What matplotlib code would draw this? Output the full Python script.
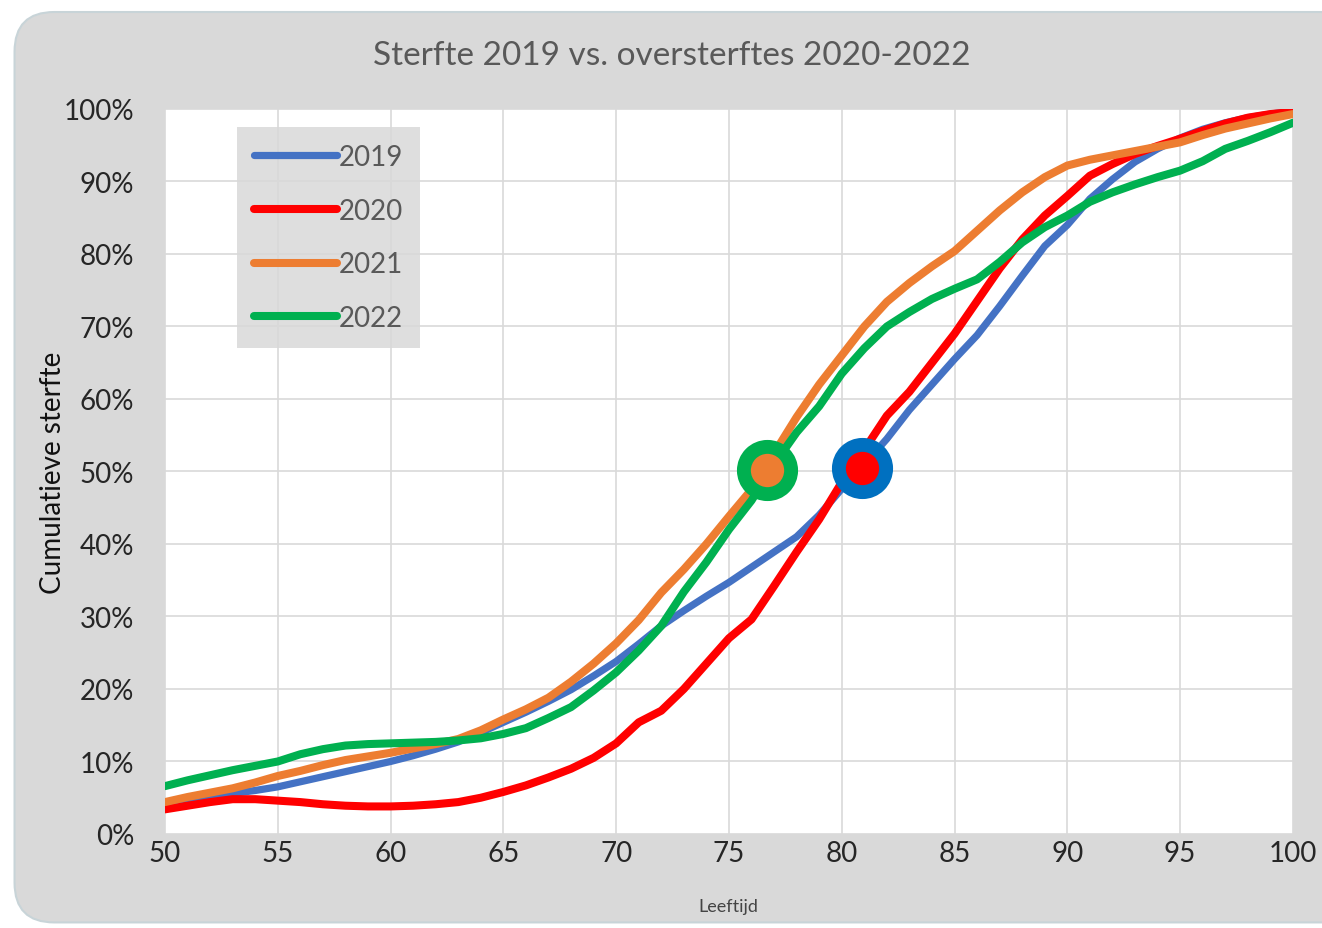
import matplotlib
matplotlib.use("Agg")
import matplotlib.pyplot as plt
from matplotlib.patches import FancyBboxPatch
from matplotlib.ticker import PercentFormatter

# ages 50..100
ages = list(range(50, 101))

sterfte_2019 = [4.0, 4.6, 5.1, 5.6, 6.0, 6.5, 7.2, 7.9, 8.6, 9.3,
                10.0, 10.8, 11.7, 12.7, 14.0, 15.4, 16.8, 18.3, 19.9, 21.8,
                23.8, 26.2, 28.7, 30.8, 32.8, 34.7, 36.8, 38.9, 41.0, 44.0,
                47.6, 51.0, 54.5, 58.5, 62.0, 65.5, 68.8, 72.8, 77.0, 81.1,
                84.0, 87.6, 90.3, 92.7, 94.5, 96.0, 97.2, 98.1, 98.8, 99.3, 99.7]
sterfte_2020 = [3.4, 3.9, 4.4, 4.8, 4.8, 4.6, 4.4, 4.1, 3.9, 3.8,
                3.8, 3.9, 4.1, 4.4, 5.0, 5.8, 6.7, 7.8, 9.0, 10.5,
                12.5, 15.4, 17.0, 20.0, 23.5, 27.0, 29.6, 34.2, 38.9, 43.4,
                48.5, 53.0, 57.7, 61.0, 65.0, 69.0, 73.5, 78.0, 82.0, 85.3,
                88.0, 90.8, 92.4, 93.8, 94.9, 95.9, 97.0, 98.0, 98.8, 99.3, 99.6]
sterfte_2021 = [4.4, 5.1, 5.7, 6.3, 7.1, 8.0, 8.7, 9.5, 10.2, 10.7,
                11.2, 11.8, 12.4, 13.1, 14.3, 15.8, 17.2, 18.8, 21.0, 23.5,
                26.3, 29.5, 33.3, 36.5, 40.0, 43.8, 47.5, 52.5, 57.5, 62.0,
                66.0, 70.0, 73.4, 76.0, 78.3, 80.4, 83.2, 86.0, 88.5, 90.6,
                92.2, 93.0, 93.6, 94.2, 94.8, 95.4, 96.4, 97.3, 98.0, 98.7, 99.3]
sterfte_2022 = [6.6, 7.4, 8.1, 8.8, 9.4, 10.0, 11.0, 11.7, 12.2, 12.4,
                12.5, 12.6, 12.7, 12.9, 13.2, 13.8, 14.6, 16.0, 17.5, 19.8,
                22.3, 25.3, 28.7, 33.4, 37.5, 42.0, 46.0, 51.0, 55.4, 59.0,
                63.5, 67.0, 70.0, 72.0, 73.8, 75.2, 76.5, 78.9, 81.6, 83.7,
                85.3, 87.2, 88.5, 89.6, 90.6, 91.5, 92.8, 94.5, 95.6, 96.8, 98.1]

# median ages (50% point)
median_2021_22 = (76.7, 50.2)
median_2019_20 = (80.9, 50.5)

plt.rcParams['font.family'] = ['Lato', 'DejaVu Sans']

fig = plt.figure(figsize=(13.22, 9.29), dpi=100, facecolor="white")
bg = FancyBboxPatch((0.011, 0.006), 1.2, 0.98, boxstyle="round,pad=0,rounding_size=0.03",
                    transform=fig.transFigure, facecolor="#d9d9d9", edgecolor="#c8d4d8",
                    linewidth=1.5, zorder=-5, mutation_aspect=1322/929)
fig.patches.append(bg)

ax = fig.add_axes([0.1248, 0.1012, 0.8532, 0.7804])
ax.set_facecolor("white")

kw = dict(solid_capstyle="round", solid_joinstyle="round")
ax.plot(ages, [v / 100 for v in sterfte_2019], color="#4472C4", lw=5.2, label="2019", **kw)
ax.plot(ages, [v / 100 for v in sterfte_2020], color="#FF0000", lw=5.8, label="2020", **kw)
ax.plot(ages, [v / 100 for v in sterfte_2021], color="#ED7D31", lw=5.8, label="2021", **kw)
ax.plot(ages, [v / 100 for v in sterfte_2022], color="#00B050", lw=5.8, label="2022", **kw)

ax.plot(median_2021_22[0], median_2021_22[1] / 100, "o", ms=34, mfc="#ED7D31", mec="#00B050", mew=10, zorder=5)
ax.plot(median_2019_20[0], median_2019_20[1] / 100, "o", ms=34, mfc="#FF0000", mec="#0070C0", mew=10, zorder=5)

ax.set_xlim(50, 100)
ax.set_ylim(0, 1)
ax.set_xticks(range(50, 101, 5))
ax.set_yticks([i / 10 for i in range(11)])
ax.yaxis.set_major_formatter(PercentFormatter(1.0, decimals=0))
ax.grid(True, color="#d9d9d9", lw=1.2)
ax.set_axisbelow(True)
for s in ax.spines.values():
    s.set_visible(False)
ax.tick_params(length=0, labelsize=20, colors="#262626", pad=4)
ax.tick_params(axis="y", pad=22)
for lbl in ax.get_yticklabels():
    lbl.set_horizontalalignment("right")

ax.set_xlabel("Leeftijd", fontsize=13, color="#444444")
ax.xaxis.set_label_coords(0.499, -0.088)
ax.set_ylabel("Cumulatieve sterfte", fontsize=20, color="#111111")
ax.yaxis.set_label_coords(-0.088, 0.5)
fig.text(0.508, 0.94, "Sterfte 2019 vs. oversterftes 2020-2022", ha="center", va="center",
         fontsize=24, color="#595959")

leg = ax.legend(loc="upper left", bbox_to_anchor=(0.064, 0.975), fontsize=20,
                frameon=True, fancybox=False, facecolor="#d9d9d9", edgecolor="none",
                framealpha=0.85, handlelength=3.0, handletextpad=0.05, labelspacing=1.0,
                borderpad=0.6, borderaxespad=0)
for t in leg.get_texts():
    t.set_color("#595959")

fig.savefig("out.png", dpi=100, facecolor=fig.get_facecolor())
